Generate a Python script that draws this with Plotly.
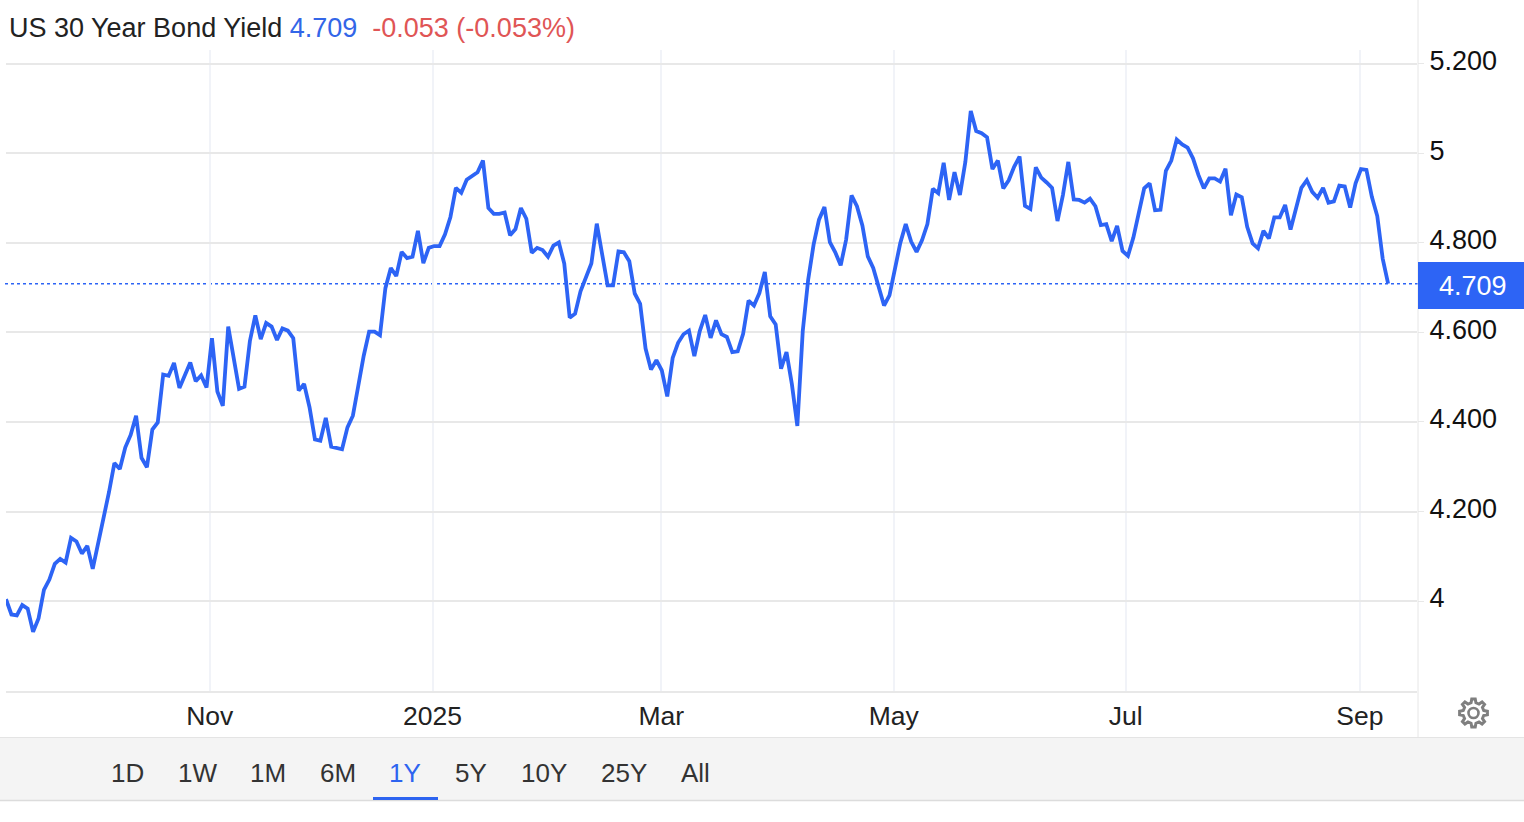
import math
import plotly.graph_objects as go

W = 1524
H = 822

# daily closes, left to right
yields = [
    4.004, 3.970, 3.968, 3.991, 3.983, 3.931, 3.961, 4.025, 4.048, 4.083,
    4.094, 4.086, 4.141, 4.133, 4.106, 4.123, 4.072, 4.126, 4.180, 4.243,
    4.308, 4.295, 4.343, 4.371, 4.414, 4.320, 4.299, 4.383, 4.399, 4.506,
    4.503, 4.532, 4.476, 4.506, 4.533, 4.491, 4.504, 4.477, 4.587, 4.468,
    4.436, 4.613, 4.541, 4.474, 4.479, 4.581, 4.638, 4.585, 4.621, 4.613,
    4.583, 4.609, 4.604, 4.587, 4.470, 4.485, 4.433, 4.361, 4.358, 4.409,
    4.345, 4.342, 4.339, 4.388, 4.414, 4.481, 4.548, 4.602, 4.602, 4.594,
    4.699, 4.744, 4.726, 4.780, 4.766, 4.769, 4.827, 4.755, 4.789, 4.793,
    4.793, 4.819, 4.858, 4.923, 4.912, 4.941, 4.950, 4.958, 4.984, 4.878,
    4.865, 4.865, 4.868, 4.817, 4.831, 4.878, 4.854, 4.778, 4.789, 4.784,
    4.769, 4.794, 4.801, 4.754, 4.633, 4.642, 4.692, 4.722, 4.754, 4.843,
    4.774, 4.705, 4.705, 4.781, 4.779, 4.759, 4.687, 4.664, 4.564, 4.517,
    4.538, 4.515, 4.457, 4.543, 4.577, 4.596, 4.604, 4.547, 4.603, 4.639,
    4.588, 4.627, 4.596, 4.590, 4.556, 4.558, 4.597, 4.671, 4.660, 4.688,
    4.735, 4.636, 4.618, 4.519, 4.556, 4.484, 4.391, 4.603, 4.718, 4.796,
    4.852, 4.880, 4.802, 4.779, 4.750, 4.807, 4.906, 4.882, 4.839, 4.770,
    4.744, 4.702, 4.660, 4.683, 4.744, 4.800, 4.842, 4.803, 4.780, 4.806,
    4.842, 4.921, 4.911, 4.979, 4.896, 4.958, 4.907, 4.981, 5.095, 5.050,
    5.045, 5.036, 4.965, 4.984, 4.922, 4.940, 4.970, 4.993, 4.883, 4.876,
    4.969, 4.946, 4.935, 4.923, 4.849, 4.907, 4.981, 4.897, 4.896, 4.890,
    4.899, 4.882, 4.840, 4.842, 4.804, 4.838, 4.782, 4.771, 4.812, 4.866,
    4.922, 4.933, 4.873, 4.874, 4.961, 4.984, 5.031, 5.020, 5.013, 4.989,
    4.952, 4.922, 4.944, 4.944, 4.937, 4.966, 4.862, 4.908, 4.902, 4.836,
    4.799, 4.788, 4.827, 4.810, 4.857, 4.857, 4.885, 4.830, 4.877, 4.923,
    4.940, 4.914, 4.901, 4.923, 4.890, 4.893, 4.928, 4.926, 4.879, 4.933,
    4.965, 4.963, 4.903, 4.860, 4.765, 4.709,
]
sessions = list(range(len(yields)))

month_ticks = [37.6, 78.7, 120.9, 163.8, 206.6, 249.8]
month_labels = ["Nov", "2025", "Mar", "May", "Jul", "Sep"]

yield_ticks = [4, 4.2, 4.4, 4.6, 4.8, 5, 5.2]
yield_labels = ["4", "4.200", "4.400", "4.600", "4.800", "5", "5.200"]

range_labels = ["1D", "1W", "1M", "6M", "1Y", "5Y", "10Y", "25Y", "All"]
range_centers = [127, 197, 268, 338, 405, 471, 544, 624, 695]

BLUE = "#2d64f5"
GRID = "#e8e8e8"
FONT = "Liberation Sans"


# pixel position on the page to paper fraction (margins are zero)
def px(x):
    return x / W


def py(y):
    return 1 - y / H


def gear_path(cx, cy, r_out, r_in, teeth=8):
    pts = []
    step = 2 * math.pi / teeth
    for t in range(teeth):
        a = t * step
        for frac, r in [(-0.30, r_in), (-0.16, r_out), (0.16, r_out), (0.30, r_in)]:
            ang = a + frac * step
            pts.append((cx + r * math.cos(ang), cy + r * math.sin(ang)))
    return "M " + " L ".join(f"{px(x):.5f} {py(y):.5f}" for x, y in pts) + " Z"


fig = go.Figure()

fig.add_trace(go.Scatter(
    x=sessions,
    y=yields,
    mode="lines",
    line=dict(color=BLUE, width=3.8),
    hoverinfo="skip",
    showlegend=False,
))

shapes = [
    # last value guide
    dict(type="line", xref="paper", yref="y", x0=px(5), x1=px(1418), y0=yields[-1], y1=yields[-1],
         line=dict(color=BLUE, width=1.5, dash="dot"), layer="below"),
    # price axis border
    dict(type="line", xref="paper", yref="paper", x0=px(1418), x1=px(1418), y0=py(0), y1=py(737),
         line=dict(color="#e6e6e6", width=1)),
    # current value box
    dict(type="rect", xref="paper", yref="paper", x0=px(1418), x1=px(1524), y0=py(262), y1=py(309),
         line=dict(width=0), fillcolor="#2d64f5"),
    # range selector strip
    dict(type="rect", xref="paper", yref="paper", x0=0, x1=1, y0=py(738), y1=py(800),
         line=dict(width=0), fillcolor="#f4f4f4"),
    dict(type="line", xref="paper", yref="paper", x0=0, x1=1, y0=py(737.5), y1=py(737.5),
         line=dict(color="#e4e4e4", width=1)),
    dict(type="line", xref="paper", yref="paper", x0=0, x1=1, y0=py(800.5), y1=py(800.5),
         line=dict(color="#dcdcdc", width=1.5)),
    dict(type="rect", xref="paper", yref="paper", x0=px(373), x1=px(438), y0=py(797), y1=py(800),
         line=dict(width=0), fillcolor="#2d64f0"),
    # settings icon
    dict(type="path", xref="paper", yref="paper", path=gear_path(1473.5, 713, 14, 10.5),
         line=dict(color="#7f7f7f", width=3), fillcolor="rgba(0,0,0,0)"),
    dict(type="circle", xref="paper", yref="paper", x0=px(1468.5), x1=px(1478.5), y0=py(708), y1=py(718),
         line=dict(color="#7f7f7f", width=2.6)),
]

annotations = [
    dict(
        xref="paper", yref="paper", x=px(7), y=py(28), xanchor="left", yanchor="middle", showarrow=False,
        text=('US 30 Year Bond Yield <span style="color:#3366e8">4.709</span>'
              '&nbsp;&nbsp;<span style="color:#e05555">-0.053 (-0.053%)</span>'),
        font=dict(family=FONT, size=27, color="#222222"),
    ),
    dict(
        xref="paper", yref="paper", x=px(1472.5), y=py(285.5), xanchor="center", yanchor="middle", showarrow=False,
        text=f"{yields[-1]:.3f}",
        font=dict(family=FONT, size=27, color="#ffffff"),
    ),
]
for label, center in zip(range_labels, range_centers):
    annotations.append(dict(
        xref="paper", yref="paper", x=px(center), y=py(773), xanchor="center", yanchor="middle", showarrow=False,
        text=label,
        font=dict(family=FONT, size=26, color="#2d64f0" if label == "1Y" else "#333333"),
    ))

fig.update_layout(
    width=W,
    height=H,
    margin=dict(l=0, r=0, t=0, b=0),
    paper_bgcolor="#ffffff",
    plot_bgcolor="#ffffff",
    shapes=shapes,
    annotations=annotations,
    xaxis=dict(
        domain=[px(6), px(1417)],
        range=[0, 260.33],
        automargin=False,
        tickvals=month_ticks,
        ticktext=month_labels,
        showgrid=True,
        gridcolor="#f1f3f8",
        gridwidth=1.5,
        zeroline=False,
        showline=True,
        linecolor=GRID,
        linewidth=2,
        ticks="",
        tickfont=dict(family=FONT, size=26.5, color="#222222"),
    ),
    yaxis=dict(
        domain=[py(691), py(50)],
        range=[3.799, 5.231],
        automargin=False,
        side="right",
        tickvals=yield_ticks,
        ticktext=yield_labels,
        showgrid=True,
        gridcolor=GRID,
        gridwidth=2,
        zeroline=False,
        showline=False,
        ticks="outside",
        ticklen=6,
        tickcolor=GRID,
        ticklabelshift=-3,
        tickfont=dict(family=FONT, size=27, color="#111111"),
    ),
)

fig.write_html("out.html", config={"displayModeBar": False}, post_script="document.body.style.margin = '0';")
